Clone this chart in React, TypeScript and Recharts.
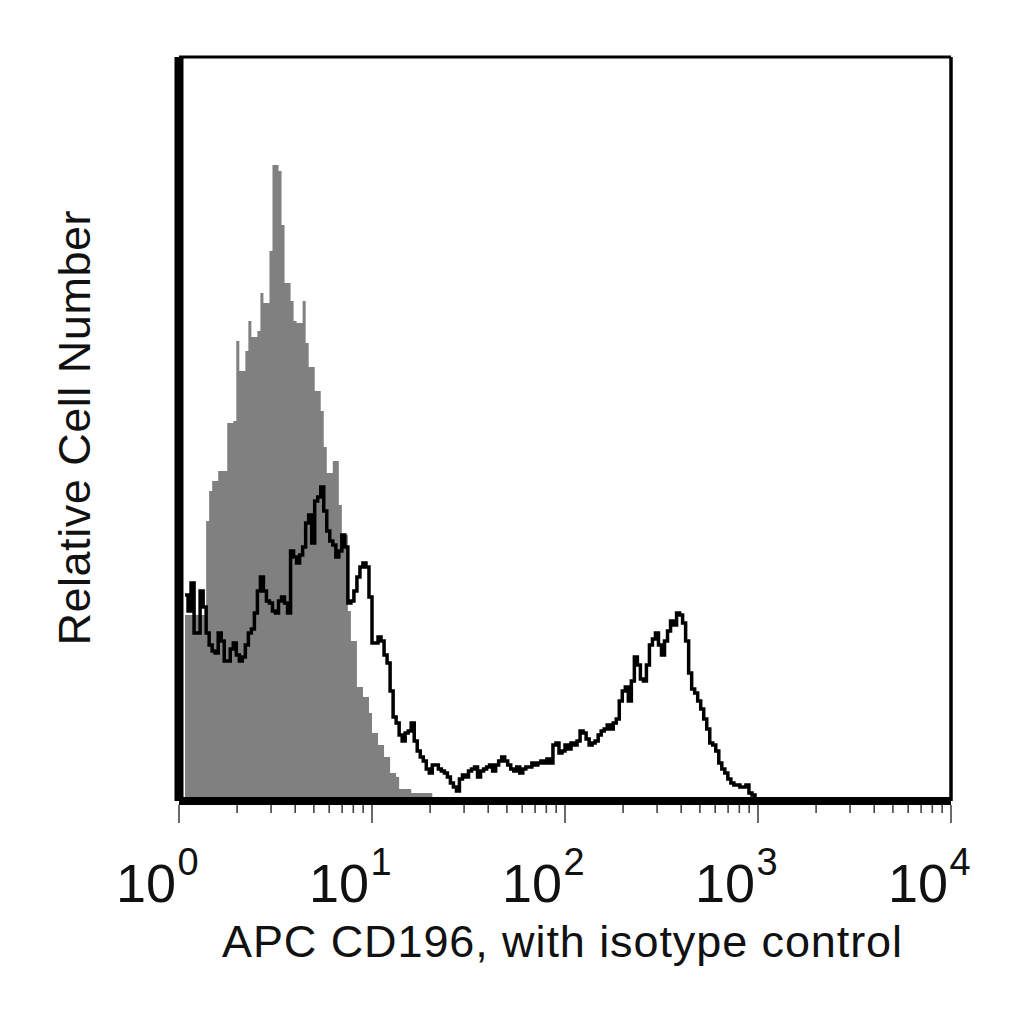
import React from 'react';
import { ComposedChart, Area, Line, XAxis, YAxis, ReferenceLine, Label } from 'recharts';

// Histogram resolution: 256 channels over 4 decades
const CHANNELS_PER_DECADE = 64;

// Isotype control (grey filled histogram): channel -> relative count
const isotypeChannels = [2, 9, 10, 11, 13, 16, 18, 19, 20, 22, 23, 24, 26, 27, 28, 30, 31, 33, 34, 35, 37, 38, 39, 41, 42, 43, 45, 47, 48, 49, 51, 53, 54, 56, 57, 59, 61, 63, 64, 66, 68, 70, 72, 73, 77, 84];
const isotypeCounts = [93, 140, 155, 160, 165, 189, 190, 230, 215, 225, 240, 232, 235, 254, 249, 275, 318, 315, 288, 259, 250, 240, 239, 250, 229, 217, 205, 195, 177, 164, 170, 148, 133, 95, 80, 57, 52, 44, 34, 28, 22, 14, 12, 6, 4, 0];

// APC CD196 stained sample (black outline histogram): counts for consecutive channels starting at channel 2
const STAINED_FIRST_CHANNEL = 2;
const stainedCounts = [
  103, 95, 109, 84, 84, 105, 97, 84, 78, 75,
  74, 84, 80, 70, 70, 76, 79, 73, 70, 72,
  78, 84, 86, 94, 105, 112, 105, 100, 99, 95,
  94, 100, 102, 99, 94, 125, 122, 119, 123, 127,
  139, 143, 129, 150, 152, 157, 145, 135, 130, 128,
  122, 125, 133, 127, 99, 100, 105, 112, 117, 119,
  117, 102, 79, 79, 82, 80, 73, 69, 55, 42,
  39, 33, 30, 34, 35, 39, 30, 25, 22, 20,
  16, 14, 18, 18, 16, 15, 14, 12, 9, 7,
  5, 11, 13, 12, 15, 16, 17, 12, 15, 16,
  17, 18, 15, 18, 20, 22, 20, 18, 16, 15,
  17, 14, 16, 17, 17, 19, 18, 19, 20, 19,
  21, 19, 28, 29, 24, 25, 28, 26, 29, 28,
  30, 35, 34, 31, 28, 29, 30, 33, 35, 36,
  38, 36, 39, 41, 50, 55, 57, 50, 60, 72,
  68, 61, 60, 68, 78, 81, 84, 78, 73, 80,
  85, 90, 88, 94, 93, 89, 80, 64, 56, 54,
  50, 46, 41, 36, 29, 28, 25, 19, 16, 14,
  11, 9, 8, 8, 7, 7, 8, 4, 3, 0,
];

const Y_MAX = 372;

// Axis ticks (log scale, major decades plus minor 2..9)
const xTicks = [
  1, 2, 3, 4, 5, 6, 7, 8, 9,
  10, 20, 30, 40, 50, 60, 70, 80, 90,
  100, 200, 300, 400, 500, 600, 700, 800, 900,
  1000, 2000, 3000, 4000, 5000, 6000, 7000, 8000, 9000,
  10000,
];
const majorTicks = [1, 10, 100, 1000, 10000];
const majorTickExponents = ['0', '1', '2', '3', '4'];

const xAxisTitle = 'APC CD196, with isotype control';
const yAxisTitle = 'Relative Cell Number';

const isotypeData = isotypeChannels.map((ch, i) => ({
  x: Math.pow(10, ch / CHANNELS_PER_DECADE),
  count: isotypeCounts[i],
}));
const stainedData = stainedCounts.map((c, i) => ({
  x: Math.pow(10, (STAINED_FIRST_CHANNEL + i) / CHANNELS_PER_DECADE),
  count: c,
}));

const FONT = '"Liberation Sans", Arial, sans-serif';

function XTick(props: any) {
  const { x, y, payload } = props;
  const v = payload.value;
  const idx = majorTicks.indexOf(v);
  const isMajor = idx >= 0;
  return (
    <g>
      <line x1={x} x2={x} y1={y + 4} y2={y + (isMajor ? 22 : 12)} stroke="#444" strokeWidth={1.6} />
      {isMajor && (
        <g>
          <text x={x - 3} y={y + 101} textAnchor="end" fontFamily={FONT} fontSize={54} fill="#111">
            10
          </text>
          <text x={x - 1.5} y={y + 74} textAnchor="start" fontFamily={FONT} fontSize={38} fill="#111">
            {majorTickExponents[idx]}
          </text>
        </g>
      )}
    </g>
  );
}

function XTitle(props: any) {
  const vb = props.viewBox || { x: 179, y: 801 };
  return (
    <text
      x={vb.x + 43}
      y={vb.y + 156}
      textAnchor="start"
      fontFamily={FONT}
      fontSize={45}
      fill="#111"
      textLength={680}
      lengthAdjust="spacing"
    >
      {xAxisTitle}
    </text>
  );
}

function YTitle(props: any) {
  const vb = props.viewBox || { x: 79, y: 57, height: 744 };
  const cx = vb.x + 11;
  const cy = vb.y + vb.height / 2 - 1;
  return (
    <text
      transform={`translate(${cx},${cy}) rotate(-90)`}
      textAnchor="middle"
      fontFamily={FONT}
      fontSize={45}
      fill="#111"
      textLength={435}
      lengthAdjust="spacing"
    >
      {yAxisTitle}
    </text>
  );
}

export default function App() {
  return (
    <div style={{ position: 'absolute', left: 0, top: 0, width: 1024, height: 1024, background: '#fff' }}>
      <ComposedChart width={1024} height={1024} margin={{ top: 57, right: 73, bottom: 123, left: 79 }}>
        <Area
          data={isotypeData}
          dataKey="count"
          type="stepAfter"
          fill="#808080"
          fillOpacity={1}
          stroke="none"
          dot={false}
          activeDot={false}
          isAnimationActive={false}
        />
        <Line
          data={stainedData}
          dataKey="count"
          type="stepAfter"
          stroke="#000"
          strokeWidth={3.5}
          dot={false}
          activeDot={false}
          isAnimationActive={false}
        />
        <ReferenceLine y={Y_MAX} stroke="#000" strokeWidth={3} />
        <ReferenceLine x={10000} stroke="#000" strokeWidth={3.5} />
        <XAxis
          dataKey="x"
          type="number"
          scale="log"
          domain={[1, 10000]}
          allowDataOverflow
          ticks={xTicks}
          interval={0}
          tickSize={0}
          tickMargin={0}
          tickLine={false}
          tick={<XTick />}
          axisLine={{ stroke: '#000', strokeWidth: 8 }}
          height={100}
        >
          <Label content={<XTitle />} />
        </XAxis>
        <YAxis
          type="number"
          domain={[0, Y_MAX]}
          allowDataOverflow
          tick={false}
          tickLine={false}
          axisLine={{ stroke: '#000', strokeWidth: 9 }}
          width={100}
        >
          <Label content={<YTitle />} />
        </YAxis>
      </ComposedChart>
    </div>
  );
}
